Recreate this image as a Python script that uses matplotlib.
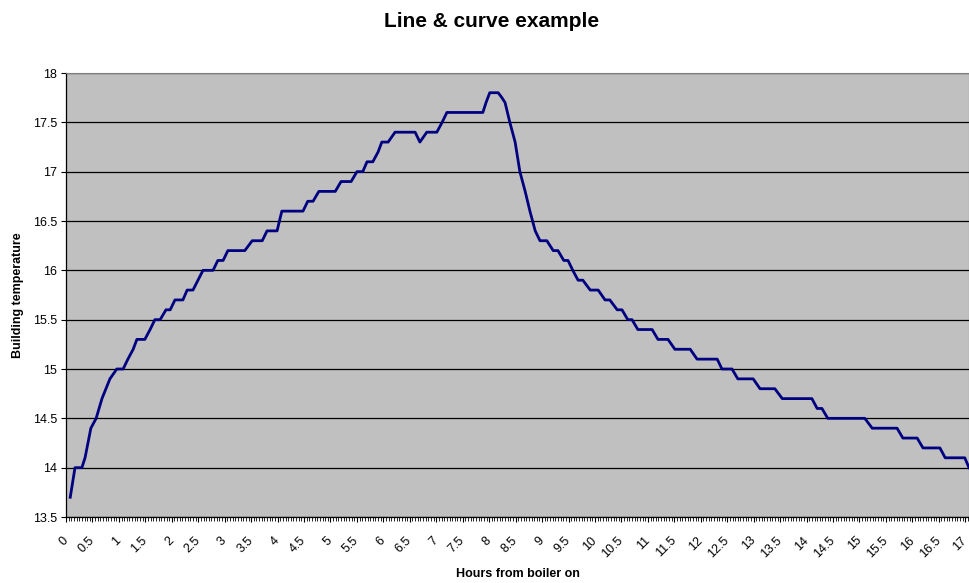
import numpy as np
import matplotlib.pyplot as plt
from matplotlib.ticker import MultipleLocator

plt.rcParams.update({
    "font.family": ["Liberation Sans", "DejaVu Sans"],
    "font.size": 9,
})

# Readings (hours, degrees C)
hours = [
    0.08, 0.17, 0.30, 0.36, 0.47, 0.57, 0.68, 0.83, 0.96, 1.08,
    1.17, 1.27, 1.34, 1.49, 1.59, 1.68, 1.78, 1.89, 1.97, 2.06,
    2.21, 2.29, 2.40, 2.59, 2.78, 2.87, 2.97, 3.06, 3.38, 3.52,
    3.71, 3.80, 3.99, 4.08, 4.48, 4.57, 4.67, 4.78, 5.09, 5.20,
    5.39, 5.50, 5.61, 5.69, 5.80, 5.90, 5.97, 6.09, 6.22, 6.60,
    6.69, 6.82, 7.01, 7.11, 7.20, 7.88, 7.94, 8.01, 8.17, 8.24,
    8.30, 8.39, 8.49, 8.58, 8.68, 8.77, 8.87, 8.96, 9.09, 9.21,
    9.30, 9.41, 9.49, 9.58, 9.68, 9.77, 9.91, 10.06, 10.19, 10.28,
    10.42, 10.51, 10.62, 10.70, 10.81, 11.08, 11.19, 11.38, 11.51, 11.80,
    11.93, 12.31, 12.40, 12.59, 12.70, 12.99, 13.12, 13.40, 13.54, 14.10,
    14.20, 14.29, 14.40, 15.10, 15.24, 15.71, 15.82, 16.09, 16.20, 16.52,
    16.62, 16.99, 17.07,
]
temperature = [
    13.7, 14.0, 14.0, 14.1, 14.4, 14.5, 14.7, 14.9, 15.0, 15.0,
    15.1, 15.2, 15.3, 15.3, 15.4, 15.5, 15.5, 15.6, 15.6, 15.7,
    15.7, 15.8, 15.8, 16.0, 16.0, 16.1, 16.1, 16.2, 16.2, 16.3,
    16.3, 16.4, 16.4, 16.6, 16.6, 16.7, 16.7, 16.8, 16.8, 16.9,
    16.9, 17.0, 17.0, 17.1, 17.1, 17.2, 17.3, 17.3, 17.4, 17.4,
    17.3, 17.4, 17.4, 17.5, 17.6, 17.6, 17.7, 17.8, 17.8, 17.75,
    17.7, 17.5, 17.3, 17.0, 16.8, 16.6, 16.4, 16.3, 16.3, 16.2,
    16.2, 16.1, 16.1, 16.0, 15.9, 15.9, 15.8, 15.8, 15.7, 15.7,
    15.6, 15.6, 15.5, 15.5, 15.4, 15.4, 15.3, 15.3, 15.2, 15.2,
    15.1, 15.1, 15.0, 15.0, 14.9, 14.9, 14.8, 14.8, 14.7, 14.7,
    14.6, 14.6, 14.5, 14.5, 14.4, 14.4, 14.3, 14.3, 14.2, 14.2,
    14.1, 14.1, 14.0,
]

x_ticks = np.arange(0, 17.5, 0.5)
x_labels = ["%g" % v for v in x_ticks]
y_ticks = np.arange(13.5, 18.01, 0.5)
y_labels = ["%g" % v for v in y_ticks]

fig = plt.figure(figsize=(9.69, 5.83), dpi=100)
ax = fig.add_axes([66 / 969, 1 - 517 / 583, 1 - 66 / 969, (517 - 73) / 583])

ax.set_facecolor("#C0C0C0")
ax.plot(hours, temperature, color="#000080", linewidth=2.0, zorder=3)

ax.set_xlim(0, 17.07)
ax.set_ylim(13.5, 18)

ax.set_yticks(y_ticks)
ax.set_yticklabels(y_labels)
ax.yaxis.grid(True, color="black", linewidth=0.9)
ax.set_axisbelow(True)

ax.set_xticks(x_ticks)
ax.set_xticklabels(x_labels, rotation=45, ha="right", va="center",
                   rotation_mode="anchor")
ax.xaxis.set_minor_locator(MultipleLocator(0.05))
ax.tick_params(axis="x", which="major", length=3.5, width=0.8, pad=12)
ax.tick_params(axis="x", which="minor", length=3, width=0.6)
ax.tick_params(axis="y", length=3.5, width=0.8, pad=3)

for side in ["top", "right"]:
    ax.spines[side].set_color("#808080")
for side in ["left", "bottom"]:
    ax.spines[side].set_color("black")
    ax.spines[side].set_linewidth(0.9)

ax.set_xlabel("Hours from boiler on", fontweight="bold", labelpad=6)
ax.set_ylabel("Building temperature", fontweight="bold", labelpad=6)

fig.text(0.507, 0.963, "Line & curve example", ha="center", va="center",
         fontsize=15, fontweight="bold")

plt.savefig("out.png", dpi=100)
